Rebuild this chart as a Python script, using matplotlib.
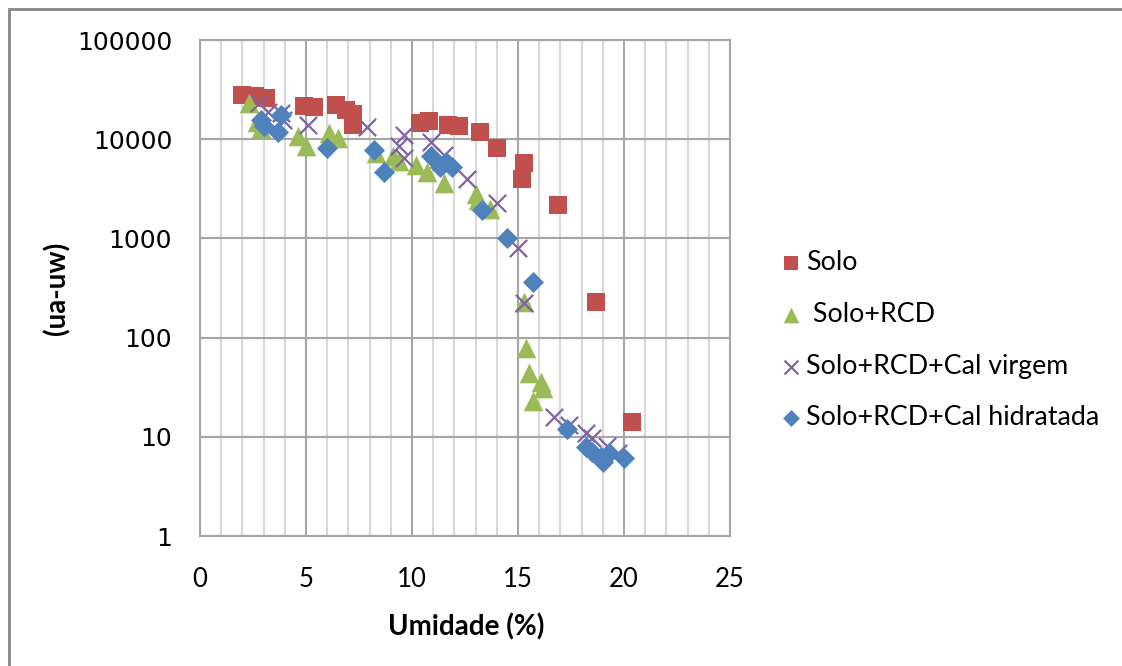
import matplotlib
matplotlib.use("Agg")
import matplotlib.pyplot as plt
from matplotlib.patches import Rectangle

# Solo
solo_x = [2.0, 2.6, 3.1, 4.9, 5.4, 6.4, 6.9, 7.2, 7.2, 10.4, 10.8, 11.7, 12.2, 13.2, 14.0, 15.3, 15.2, 16.9, 18.7, 20.4]
solo_y = [28000, 27500, 26000, 21800, 21200, 22000, 19500, 18000, 14000, 14500, 15200, 13900, 13500, 11900, 8100, 5800, 3950, 2170, 230, 14]

# Solo+RCD
rcd_x = [2.3, 2.7, 2.9, 4.6, 5.0, 6.1, 6.5, 8.3, 9.1, 9.4, 10.2, 10.7, 11.5, 13.0, 13.1, 13.7, 15.3, 15.4, 15.5, 16.1, 16.2, 15.7]
rcd_y = [23000, 15000, 13000, 10800, 8600, 11500, 10200, 7300, 6700, 6000, 5500, 4700, 3600, 2800, 2450, 2000, 230, 78, 44, 36, 31, 23]

# Solo+RCD+Cal virgem
virgem_x = [2.8, 3.2, 3.8, 3.9, 5.1, 7.9, 9.6, 9.4, 9.6, 10.9, 11.5, 12.6, 14.0, 15.0, 15.3, 16.7, 17.4, 18.2, 18.5, 19.2, 19.7]
virgem_y = [23000, 19000, 18500, 15500, 14000, 13200, 11000, 8500, 6500, 9300, 7000, 4000, 2300, 800, 225, 16, 13, 11, 9.7, 8.0, 6.8]

# Solo+RCD+Cal hidratada
hidr_x = [2.9, 3.0, 3.7, 3.8, 6.0, 8.2, 8.7, 10.9, 11.3, 11.6, 11.9, 13.3, 14.5, 15.7, 17.3, 18.2, 18.5, 18.9, 19.0, 19.3, 20.0]
hidr_y = [15500, 13500, 11800, 17500, 8100, 7800, 4700, 6700, 5200, 5900, 5300, 1950, 1000, 360, 12, 7.9, 7.1, 6.3, 5.6, 6.8, 6.1]

x_ticks = [0, 5, 10, 15, 20, 25]
y_ticks = [1, 10, 100, 1000, 10000, 100000]
y_labels = ["1", "10", "100", "1000", "10000", "100000"]

plt.rcParams["font.family"] = ["Lato", "DejaVu Sans"]

fig = plt.figure(figsize=(11.22, 6.66), dpi=100)
ax = fig.add_axes([200 / 1122, 1 - 536 / 666, 530 / 1122, 496 / 666])

ax.scatter(solo_x, solo_y, marker="s", s=155, color="#C0504D", label="Solo", zorder=3, linewidths=0)
ax.scatter(rcd_x, rcd_y, marker="^", s=200, color="#9BBB59", label=" Solo+RCD", zorder=3, linewidths=0)
ax.scatter(virgem_x, virgem_y, marker="x", s=155, color="#8064A2", label="Solo+RCD+Cal virgem", zorder=3, linewidths=1.6)
ax.scatter(hidr_x, hidr_y, marker="D", s=115, color="#4F81BD", label="Solo+RCD+Cal hidratada", zorder=3, linewidths=0)

ax.set_yscale("log")
ax.set_xlim(0, 25)
ax.set_ylim(1, 100000)
ax.set_xticks(x_ticks)
ax.set_xticks(range(0, 26), minor=True)
ax.set_yticks(y_ticks)
ax.set_yticklabels(y_labels, family="DejaVu Sans", fontsize=18)
ax.yaxis.set_minor_locator(matplotlib.ticker.NullLocator())
for lab in ax.get_xticklabels():
    lab.set_fontsize(18.5)
ax.tick_params(axis="both", which="both", length=0)
ax.tick_params(axis="x", pad=22)
ax.tick_params(axis="y", pad=20)

ax.grid(True, which="minor", axis="x", color="#D9D9D9", lw=1.5, zorder=0)
ax.grid(True, which="major", axis="x", color="#A6A6A6", lw=1.5, zorder=1)
ax.grid(True, which="major", axis="y", color="#A6A6A6", lw=1.5, zorder=1)
ax.set_axisbelow(True)
for sp in ax.spines.values():
    sp.set_color("#A6A6A6")
    sp.set_linewidth(1.5)

fig.text(466 / 1122, 1 - 627 / 666, "Umidade (%)", ha="center", va="center", fontsize=20, weight="bold")
fig.text(57 / 1122, 1 - 288 / 666, "(ua-uw)", ha="center", va="center", rotation=90, fontsize=20, weight="bold")

leg = ax.legend(loc="upper left", bbox_to_anchor=(778 / 1122, 1 - 250 / 666), bbox_transform=fig.transFigure,
                frameon=False, fontsize=19.3, handletextpad=0.1, labelspacing=1.0, markerscale=0.8,
                handlelength=0.95, borderpad=0, borderaxespad=0)

# outer chart border
fig.add_artist(Rectangle((9 / 1122, -0.5), 2, 0.5 + 1 - 9 / 666, transform=fig.transFigure,
                         fill=False, edgecolor="#868686", lw=2))

fig.savefig("out.png", dpi=100)
